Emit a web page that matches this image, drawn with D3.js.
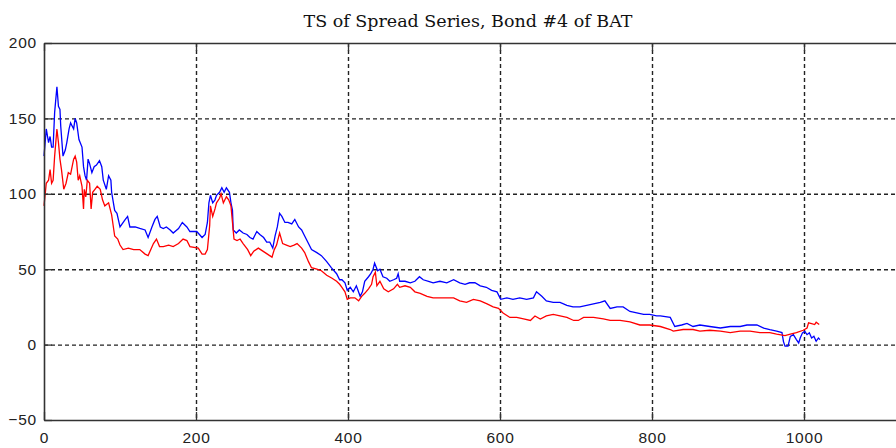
<!DOCTYPE html>
<html>
<head>
<meta charset="utf-8">
<script src="https://cdn.jsdelivr.net/npm/d3@7"></script>
<style>
  body { margin: 0; background: #fff; overflow: hidden; }
  svg { display: block; }
</style>
</head>
<body>
<script>
// values (day index, spread)
var blueDays = [0,3,6,8,10,12,14,17,19,21,22,25,28,30,33,35,39,41,43,46,50,52,54,56,58,60,63,66,69,73,76,78,82,85,88,89,93,96,100,107,110,113,120,126,133,137,142,146,149,153,157,161,166,170,177,182,188,192,201,208,212,215,217,219,222,225,227,231,234,237,240,244,246,248,249,253,257,262,267,271,275,280,284,289,293,297,301,304,307,310,313,317,321,326,330,335,339,343,348,352,359,365,372,378,385,389,392,396,399,403,407,411,416,419,422,427,430,433,435,439,442,446,451,455,460,464,466,468,475,482,488,494,499,506,512,521,530,539,547,554,560,567,574,582,589,596,599,601,609,617,626,635,644,648,655,661,670,679,688,696,705,714,723,732,738,745,754,762,771,780,789,797,806,811,824,830,839,846,854,863,876,890,903,916,925,938,947,955,964,971,973,975,979,982,986,990,993,995,998,1001,1004,1007,1010,1013,1016,1019,1021];
var blueVals = [125,143,134,138,131,131,154,171,158,156,145,125,129,134,143,147,143,150,147,136,131,118,112,109,123,120,114,118,119,122,118,109,103,112,109,101,89,87,78,83,85,78,78,77,76,71,78,83,85,78,77,78,76,74,77,81,78,75,75,71,73,81,94,99,94,96,99,101,104,101,104,101,94,89,76,74,76,74,73,71,70,75,73,71,68,68,64,72,78,87,85,81,81,80,83,78,76,72,67,63,61,59,55,51,47,43,43,41,36,38,35,39,32,35,42,45,47,50,54,49,50,45,44,42,43,44,47,42,42,41,42,45,43,42,41,42,41,43,41,40,41,41,39,38,36,35,32,30,31,30,31,30,31,35,32,29,28,28,26,25,25,26,27,28,29,24,25,25,22,21,20,20,19,19,18,12,13,14,12,13,12,11,12,12,13,13,11,10,9,8,2,-1,-1,5.5,6.6,3.3,1.1,4.4,7.8,8.8,6.6,7.8,4.4,5.5,2.2,4.4,3.3];

var redDays = [0,3,6,8,10,12,14,17,19,21,23,26,29,32,35,39,41,43,45,47,50,52,53,55,57,60,62,64,67,70,74,77,80,85,87,89,91,93,97,100,104,111,118,126,133,137,144,148,152,157,164,170,177,183,188,192,203,208,212,215,218,219,222,225,227,231,233,236,240,243,246,248,250,254,258,262,268,272,276,282,288,294,300,303,306,310,314,319,324,329,333,339,343,348,352,359,365,372,379,385,389,392,396,399,403,409,414,418,422,427,431,433,436,438,442,447,453,460,465,468,475,482,488,495,504,512,521,530,539,547,556,565,574,583,591,598,604,613,622,631,640,646,653,661,670,679,688,697,703,710,723,736,745,758,771,784,797,811,824,828,841,854,863,876,890,903,916,929,942,955,964,975,982,990,999,1004,1006,1010,1014,1016,1020];
var redVals = [92,107,109,116,107,109,125,143,134,123,116,103,107,114,113,123,125,121,109,112,105,90,103,98,109,107,90,101,103,105,103,96,92,94,90,86,79,72,70,66,63,64,63,63,60,59,67,70,65,65,66,65,67,70,69,65,64,60,60,63,79,92,85,90,94,97,100,94,98,96,92,81,70,69,70,67,63,59,62,64,62,60,58,63,66,74,67,66,65,66,67,64,61,55,51,50,49,46,44,42,40,38,35,30,31,31,29,32,34,37,40,45,48,39,42,37,35,37,40,38,39,38,35,34,32,31,31,31,31,29,28,30,29,27,25,24,21,18,18,17,16,19,17,19,20,19,18,16,16,18,18,17,16,16,15,13,13,12,10,9,10,10,9,9.5,9,8,9,9,8,8,7,6,7,8,9.5,11,14.4,13.9,13.3,14.8,13.3];

var xTicks = [0,200,400,600,800,1000];
var yTicks = [-50,0,50,100,150,200];
var title = "TS of Spread Series, Bond #4 of BAT";

var W = 896, H = 448;
var mLeft = 44, mRight = 956, mTop = 43, mBottom = 420;

var svg = d3.select("body").append("svg")
    .attr("width", W)
    .attr("height", H);

var x = d3.scaleLinear().domain([0, 1200]).range([mLeft, mRight]);
var y = d3.scaleLinear().domain([-50, 200]).range([mBottom, mTop]);

// dashed grid
svg.append("g").selectAll("line")
  .data(xTicks.filter(function(d) { return d > 0; }))
  .enter().append("line")
    .attr("x1", function(d) { return x(d) + 0.5; })
    .attr("x2", function(d) { return x(d) + 0.5; })
    .attr("y1", mTop).attr("y2", mBottom)
    .attr("stroke", "#222").attr("stroke-width", 1.4)
    .attr("stroke-dasharray", "4,3");

svg.append("g").selectAll("line")
  .data(yTicks.filter(function(d) { return d > -50 && d < 200; }))
  .enter().append("line")
    .attr("y1", function(d) { return y(d) + 0.5; })
    .attr("y2", function(d) { return y(d) + 0.5; })
    .attr("x1", mLeft).attr("x2", mRight)
    .attr("stroke", "#222").attr("stroke-width", 1.4)
    .attr("stroke-dasharray", "4,3");

// series
var blue = blueDays.map(function(d, i) { return [d, blueVals[i]]; });
var red = redDays.map(function(d, i) { return [d, redVals[i]]; });

var line = d3.line()
    .x(function(d) { return x(d[0]); })
    .y(function(d) { return y(d[1]); });

svg.append("path").datum(blue)
    .attr("d", line)
    .attr("fill", "none")
    .attr("stroke", "#0000ff")
    .attr("stroke-width", 1.3)
    .attr("stroke-linejoin", "miter");

svg.append("path").datum(red)
    .attr("d", line)
    .attr("fill", "none")
    .attr("stroke", "#ff0000")
    .attr("stroke-width", 1.3)
    .attr("stroke-linejoin", "miter");

// axes (ticks point inward)
var font = "'Liberation Sans', Arial, sans-serif";

var gx = svg.append("g")
    .attr("transform", "translate(0," + mBottom + ")")
    .call(d3.axisBottom(x).tickValues(xTicks).tickFormat(d3.format("d"))
      .tickSize(-8).tickPadding(12).tickSizeOuter(0));

var gTop = svg.append("g")
    .attr("transform", "translate(0," + mTop + ")")
    .call(d3.axisTop(x).tickValues(xTicks).tickFormat("")
      .tickSize(-8).tickSizeOuter(0));

var gy = svg.append("g")
    .attr("transform", "translate(" + mLeft + ",0)")
    .call(d3.axisLeft(y).tickValues(yTicks).tickFormat(d3.format("d"))
      .tickSize(-8).tickPadding(7).tickSizeOuter(0));

[gx, gTop, gy].forEach(function(g) {
  g.select(".domain").attr("stroke", "#333").attr("stroke-width", 1.6);
  g.selectAll(".tick line").attr("stroke", "#333").attr("stroke-width", 1.3);
  g.selectAll("text")
    .attr("font-family", font)
    .attr("font-size", "15.5px")
    .attr("letter-spacing", "0.8px")
    .attr("fill", "#222");
});

svg.append("text")
    .attr("x", 468)
    .attr("y", 27)
    .attr("text-anchor", "middle")
    .attr("font-family", "'DejaVu Serif', serif")
    .attr("font-size", "16px")
    .attr("textLength", 329)
    .attr("lengthAdjust", "spacingAndGlyphs")
    .attr("fill", "#111")
    .text(title);
</script>
</body>
</html>
